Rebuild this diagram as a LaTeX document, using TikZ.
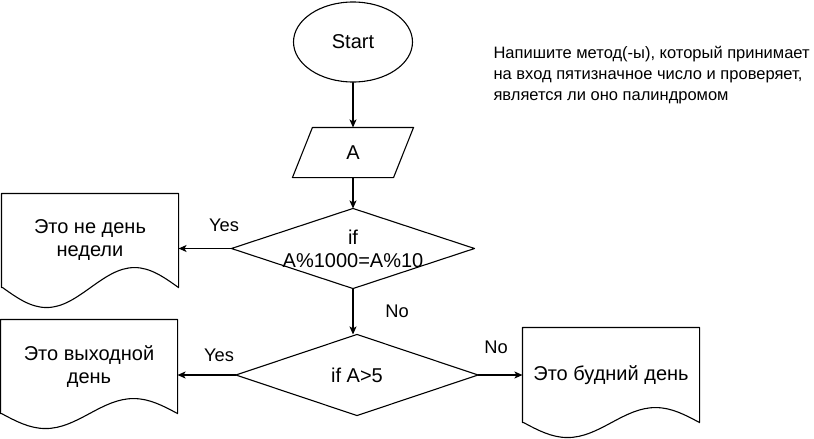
\documentclass[tikz,border=0pt]{standalone}
\usepackage{fontspec}
\setmainfont{Liberation Sans}
\usetikzlibrary{shapes.geometric,arrows.meta}
\begin{document}
\begin{tikzpicture}[x=1pt,y=-1pt,line cap=round,line join=round,line width=1.1pt,
    box/.style={inner sep=0pt,align=center,font=\fontsize{20}{23}\selectfont},
    lbl/.style={inner sep=0pt,font=\fontsize{18.3}{22}\selectfont},
    flow/.style={-{Stealth[length=8pt,width=7pt,inset=2pt]}}]
      \useasboundingbox (0,0) rectangle (814,439);
      \node[box,ellipse,draw,minimum width=119pt,minimum height=80pt] (start) at (353,42) {Start};
      \node[box,minimum width=100pt,minimum height=49pt] (in) at (353,152.5) {A};
      \node[box,minimum width=242pt,minimum height=79pt] (ifpal) at (353,248.5) {if\\A\%1000=A\%10};
      \node[box,minimum width=241pt,minimum height=80pt] (ifday) at (357,375) {if A>5};
      \node[box,minimum width=176pt,minimum height=93pt] (notday) at (90,240.5) {Это не день\\недели};
      \node[box,minimum width=176pt,minimum height=93pt] (weekend) at (89,366.5) {Это выходной\\день};
      \node[box,minimum width=176pt,minimum height=94pt] (workday) at (611,375) {Это будний день};
      \node[anchor=base west,inner sep=0pt,align=left,font=\fontsize{16.5}{21}\selectfont] (task) at (493,100)
            {Напишите метод(-ы), который принимает\\на вход пятизначное число и проверяет,\\является ли оно палиндромом};

      \draw ([xshift=10pt]in.north west) -- ([xshift=10pt]in.north east)
            -- ([xshift=-10pt]in.south east) -- ([xshift=-10pt]in.south west) -- cycle;
      \foreach \d in {ifpal,ifday}
            \draw (\d.north) -- (\d.east) -- (\d.south) -- (\d.west) -- cycle;
      \foreach \d/\a in {notday/20,weekend/15,workday/15}
            \draw (\d.south west) -- (\d.north west) -- (\d.north east) -- (\d.south east)
                  sin ++(-44,-\a) cos ++(-44,\a) sin ++(-44,\a) cos ++(-44,-\a) -- cycle;

      \draw[flow] (start.south) -- (in.north);
      \draw[flow] (in.south) -- (in.south |- ifpal.north);
      \draw[flow] (ifpal.south) -- (ifpal.south |- ifday.north);
      \draw[flow] (ifpal.west) -- (ifpal.west -| notday.east);
      \draw[flow] (ifday.west) -- (ifday.west -| weekend.east);
      \draw[flow] (ifday.east) -- (ifday.east -| workday.west);

      \node[lbl] (yes1) at (224,225) {Yes};
      \node[lbl] (no1) at (397,311) {No};
      \node[lbl] (yes2) at (219,355) {Yes};
      \node[lbl] (no2) at (496,347) {No};
\end{tikzpicture}
\end{document}
